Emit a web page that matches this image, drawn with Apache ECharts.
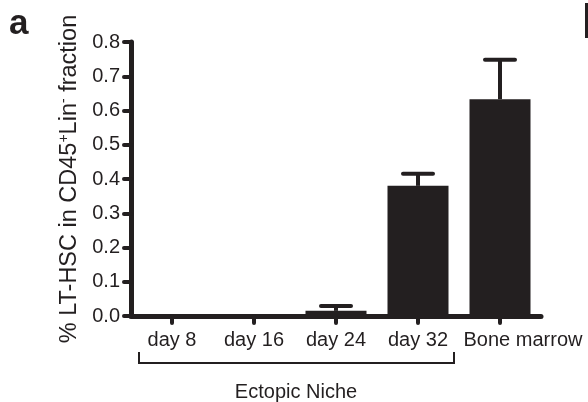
<!DOCTYPE html>
<html>
<head>
<meta charset="utf-8">
<style>html,body{margin:0;padding:0;background:#fff;}#c{width:588px;height:402px;}</style>
<script src="https://cdn.jsdelivr.net/npm/echarts@6/dist/echarts.min.js"></script>
</head>
<body>
<div id="c"></div>
<script>
const categories = ['day 8', 'day 16', 'day 24', 'day 32', 'Bone marrow'];
const means = [0, 0, 0.015, 0.38, 0.633];
const errors = [0, 0, 0.014, 0.035, 0.115];
const yTicks = [0, 0.1, 0.2, 0.3, 0.4, 0.5, 0.6, 0.7, 0.8];

const INK = '#231f20';
const FONT = '"Liberation Sans", Arial, Helvetica, sans-serif';

const chart = echarts.init(document.getElementById('c'), null, {renderer: 'canvas'});
const errData = categories.map((c, i) => [i, means[i], means[i] + errors[i]]);

chart.setOption({
  animation: false,
  backgroundColor: '#fff',
  grid: {left: 131, right: 47, top: 42, bottom: 86, containLabel: false},
  xAxis: {
    type: 'category',
    data: categories,
    boundaryGap: true,
    axisLine: {lineStyle: {color: INK, width: 5, cap: 'round'}},
    axisTick: {show: true, alignWithLabel: true, length: 7, lineStyle: {color: INK, width: 4, cap: 'round'}},
    axisLabel: {
      color: INK, fontSize: 20, fontFamily: FONT, margin: 14, interval: 0,
      formatter: (v, i) => i === categories.length - 1 ? '{shift|' + v + '}' : v,
      rich: {shift: {fontSize: 20, fontFamily: FONT, color: INK, padding: [0, 0, 0, 46]}}
    }
  },
  yAxis: {
    type: 'value',
    min: 0, max: 0.8, interval: 0.1,
    axisLine: {show: true, lineStyle: {color: INK, width: 5, cap: 'round'}},
    axisTick: {show: true, length: 7, lineStyle: {color: INK, width: 4, cap: 'round'}},
    splitLine: {show: false},
    axisLabel: {color: INK, fontSize: 20, fontFamily: FONT, margin: 11,
      formatter: v => yTicks.find(t => Math.abs(t - v) < 1e-9) !== undefined ? v.toFixed(1) : ''},
    name: '{t|% LT-HSC in CD45}{s|+}{t|Lin}{s|-}{t| fraction}',
    nameLocation: 'middle',
    nameGap: 43,
    nameRotate: 90,
    nameTextStyle: {
      rich: {
        t: {fontSize: 23.5, color: INK, fontFamily: FONT},
        s: {fontSize: 14, color: INK, fontFamily: FONT, verticalAlign: 'top', padding: [0, 0, 10, 0]}
      }
    }
  },
  series: [
    {
      type: 'bar',
      data: means,
      barWidth: 61,
      itemStyle: {color: INK},
      z: 2
    },
    {
      type: 'custom',
      data: errData,
      z: 3,
      renderItem: function (params, api) {
        const x = api.coord([api.value(0), api.value(1)])[0];
        const yb = api.coord([api.value(0), api.value(1)])[1];
        const yt = api.coord([api.value(0), api.value(2)])[1];
        if (Math.abs(yb - yt) < 0.5) return null;
        const hw = 15;
        return {
          type: 'group',
          children: [
            {type: 'line', shape: {x1: x, y1: yb, x2: x, y2: yt}, style: {stroke: INK, lineWidth: 4}},
            {type: 'line', shape: {x1: x - hw, y1: yt, x2: x + hw, y2: yt}, style: {stroke: INK, lineWidth: 4, lineCap: 'round'}}
          ]
        };
      }
    }
  ],
  graphic: [
    {type: 'text', left: 9, top: 7, style: {text: 'a', font: 'bold 35px ' + FONT, fill: INK}},
    {type: 'rect', shape: {x: 585, y: 3, width: 3, height: 35}, style: {fill: INK}},
    {type: 'polyline', shape: {points: [[139, 352], [139, 363], [454, 363], [454, 352]]},
      style: {stroke: INK, lineWidth: 2, fill: null}},
    {type: 'text', x: 296, y: 392, style: {text: 'Ectopic Niche', font: '20px ' + FONT, fill: INK, textAlign: 'center', textVerticalAlign: 'middle'}}
  ]
});
</script>
</body>
</html>
